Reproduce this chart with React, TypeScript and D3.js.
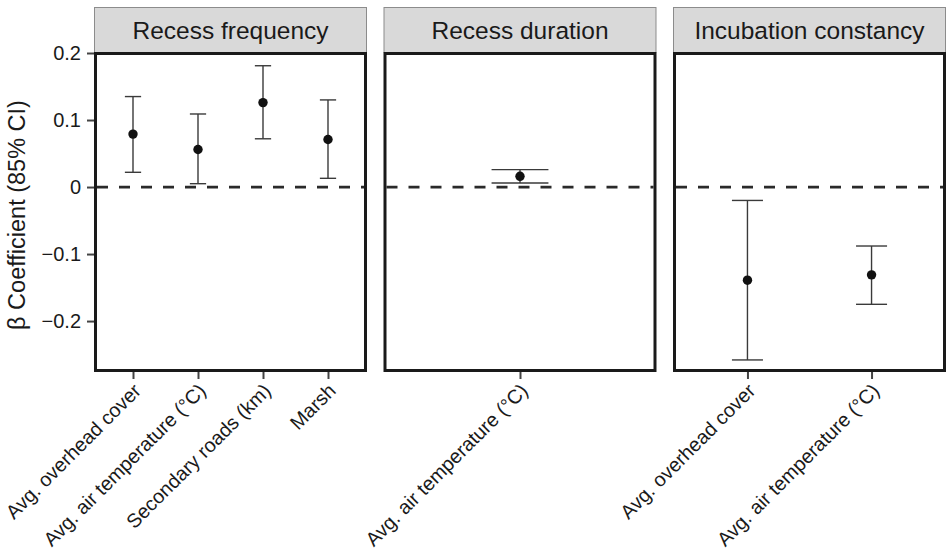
import React, { useEffect, useRef } from 'react';
import * as d3 from 'd3';

// facet panels
const panels = ['Recess frequency', 'Recess duration', 'Incubation constancy'];

// Recess frequency
const freqVars = ['Avg. overhead cover', 'Avg. air temperature (°C)', 'Secondary roads (km)', 'Marsh'];
const freqEst = [0.079, 0.056, 0.126, 0.071];
const freqLow = [0.022, 0.005, 0.072, 0.013];
const freqHigh = [0.135, 0.109, 0.181, 0.130];

// Recess duration
const durVars = ['Avg. air temperature (°C)'];
const durEst = [0.016];
const durLow = [0.006];
const durHigh = [0.026];

// Incubation constancy
const constVars = ['Avg. overhead cover', 'Avg. air temperature (°C)'];
const constEst = [-0.139, -0.131];
const constLow = [-0.258, -0.175];
const constHigh = [-0.020, -0.088];

const yTicks = [-0.2, -0.1, 0, 0.1, 0.2];
const yTickLabels = ['\u22120.2', '\u22120.1', '0', '0.1', '0.2'];

const FONT = '"Liberation Sans", Arial, Helvetica, sans-serif';

const App = () => {
  const svgRef = useRef<SVGSVGElement>(null);

  useEffect(() => {
    const width = 948;
    const height = 559;
    const svg = d3.select(svgRef.current);
    svg.selectAll('*').remove();
    svg.attr('width', width).attr('height', height);

    const plotTop = 52;
    const plotBottom = 372;
    const stripTop = 7;

    const panelData = [
      { name: panels[0], vars: freqVars, est: freqEst, low: freqLow, high: freqHigh },
      { name: panels[1], vars: durVars, est: durEst, low: durLow, high: durHigh },
      { name: panels[2], vars: constVars, est: constEst, low: constLow, high: constHigh },
    ];

    const panelScale = d3.scaleBand()
      .domain(panels)
      .range([94, 946])
      .paddingInner(0.057);

    const yScale = d3.scaleLinear()
      .domain([-0.276, 0.2015])
      .range([plotBottom, plotTop]);

    // y axis title
    svg.append('text')
      .attr('transform', `translate(25, ${(plotTop + plotBottom) / 2 + 3}) rotate(-90)`)
      .attr('text-anchor', 'middle')
      .style('font-family', FONT)
      .style('font-size', '23.5px')
      .attr('fill', '#1a1a1a')
      .text('\u03b2 Coefficient (85% CI)');

    // y axis
    const yAxis = svg.append('g')
      .attr('transform', `translate(94, 0)`)
      .call(d3.axisLeft(yScale)
        .tickValues(yTicks)
        .tickSize(7)
        .tickPadding(6)
        .tickFormat((d, i) => yTickLabels[i]));
    yAxis.select('.domain').remove();
    yAxis.selectAll('line').attr('stroke', '#444').attr('stroke-width', 2);
    yAxis.selectAll('text')
      .style('font-family', FONT)
      .style('font-size', '20px')
      .attr('fill', '#1a1a1a');

    panelData.forEach(p => {
      const x0 = panelScale(p.name)!;
      const x1 = x0 + panelScale.bandwidth();
      const xScale = d3.scalePoint()
        .domain(p.vars)
        .range([x0, x1])
        .padding(0.6);
      const step = xScale.step();

      const g = svg.append('g');

      // strip
      g.append('rect')
        .attr('x', x0 + 0.5)
        .attr('y', stripTop + 0.5)
        .attr('width', x1 - x0 - 1)
        .attr('height', plotTop - stripTop)
        .attr('fill', '#d9d9d9')
        .attr('stroke', '#8c8c8c')
        .attr('stroke-width', 1);
      g.append('text')
        .attr('x', (x0 + x1) / 2)
        .attr('y', 38.5)
        .attr('text-anchor', 'middle')
        .style('font-family', FONT)
        .style('font-size', '24.5px')
        .attr('fill', '#1a1a1a')
        .text(p.name);

      // panel background
      g.append('rect')
        .attr('x', x0)
        .attr('y', plotTop)
        .attr('width', x1 - x0)
        .attr('height', plotBottom - plotTop)
        .attr('fill', '#fff');

      // zero reference line
      g.append('line')
        .attr('x1', x0 + 3)
        .attr('x2', x1 - 3)
        .attr('y1', yScale(0))
        .attr('y2', yScale(0))
        .attr('stroke', '#2a2a2a')
        .attr('stroke-width', 2.7)
        .attr('stroke-dasharray', '11,11');

      // error bars
      const idx = d3.range(p.vars.length);
      g.selectAll('.bar')
        .data(idx)
        .join('line')
        .attr('x1', i => xScale(p.vars[i])!)
        .attr('x2', i => xScale(p.vars[i])!)
        .attr('y1', i => yScale(p.low[i]))
        .attr('y2', i => yScale(p.high[i]))
        .attr('stroke', '#3a3a3a')
        .attr('stroke-width', 1.4);
      [p.low, p.high].forEach(vals => {
        g.selectAll(null)
          .data(idx)
          .join('line')
          .attr('x1', i => xScale(p.vars[i])! - step * 0.125)
          .attr('x2', i => xScale(p.vars[i])! + step * 0.125)
          .attr('y1', i => yScale(vals[i]))
          .attr('y2', i => yScale(vals[i]))
          .attr('stroke', '#3a3a3a')
          .attr('stroke-width', 1.4);
      });

      // points
      g.selectAll('.pt')
        .data(idx)
        .join('circle')
        .attr('cx', i => xScale(p.vars[i])!)
        .attr('cy', i => yScale(p.est[i]))
        .attr('r', 4.7)
        .attr('fill', '#111');

      // panel border
      g.append('rect')
        .attr('x', x0 + 1.5)
        .attr('y', plotTop + 1.5)
        .attr('width', x1 - x0 - 3)
        .attr('height', plotBottom - plotTop - 3)
        .attr('fill', 'none')
        .attr('stroke', '#1a1a1a')
        .attr('stroke-width', 3);

      // x axis
      const xAxis = g.append('g')
        .attr('transform', `translate(0, ${plotBottom})`)
        .call(d3.axisBottom(xScale).tickSize(7).tickFormat(() => ''));
      xAxis.select('.domain').remove();
      xAxis.selectAll('line').attr('stroke', '#444').attr('stroke-width', 2);

      g.selectAll('.xlab')
        .data(p.vars)
        .join('text')
        .attr('transform', d => `translate(${xScale(d)! - 1}, ${plotBottom + 10}) rotate(-45)`)
        .attr('text-anchor', 'end')
        .attr('dy', '0.72em')
        .style('font-family', FONT)
        .style('font-size', '19.8px')
        .attr('fill', '#1a1a1a')
        .text(d => d);
    });
  }, []);

  return <svg ref={svgRef} style={{ position: 'absolute', left: 0, top: 0, background: '#fff' }}></svg>;
};

export default App;
